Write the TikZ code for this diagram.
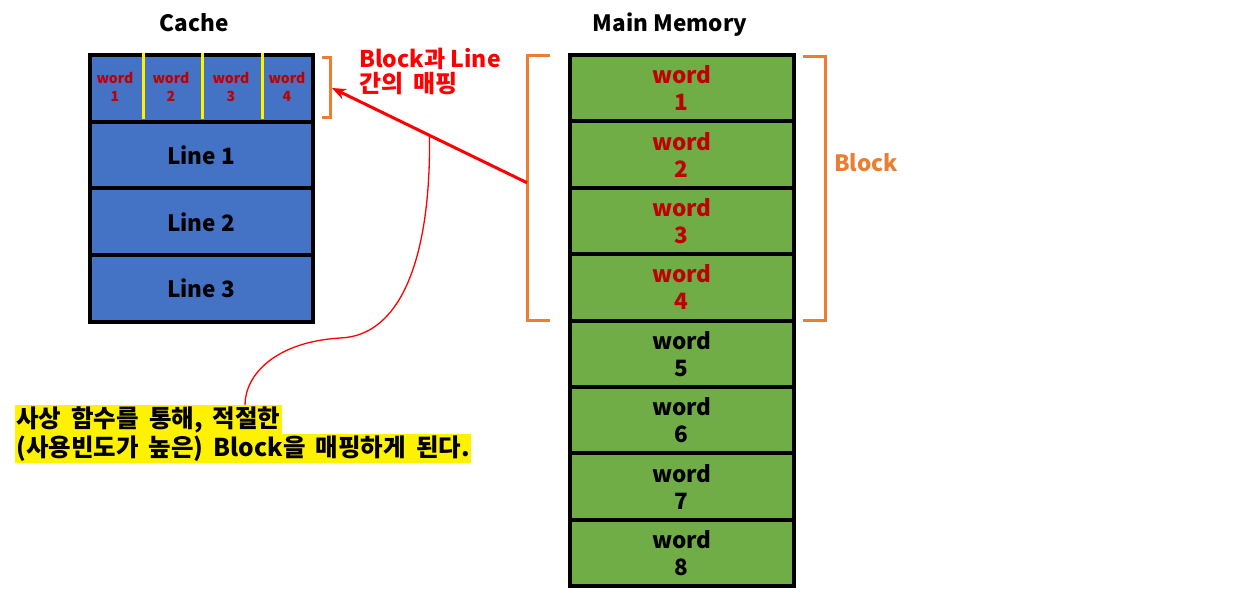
\documentclass[tikz,border=0pt]{standalone}
\usepackage{fontspec}
\setmainfont{Noto Sans CJK KR}
\newfontfamily\krwide{Noto Sans CJK KR}[WordSpace=1.8]
\usetikzlibrary{arrows.meta}
\definecolor{cacheblue}{HTML}{4472C4}
\definecolor{memgreen}{HTML}{70AD47}
\definecolor{wordred}{HTML}{C00000}
\definecolor{brorange}{HTML}{ED7D31}
\begin{document}
\begin{tikzpicture}[x=1pt,y=-1pt,
    cell/.style={draw=black, line width=4pt, outer sep=0pt, inner sep=0pt, anchor=north west, align=center},
    big/.style={font=\fontsize{22.5}{27}\selectfont\bfseries, align=center},
    small/.style={font=\fontsize{14}{18}\selectfont\bfseries, text=wordred, align=center},
    brk/.style={draw=brorange, line width=3pt},
    note/.style={fill=yellow, inner xsep=1pt, inner ysep=0pt, anchor=north west, minimum height=29pt, font=\krwide\fontsize{24.5}{26}\selectfont\bfseries}]
    \useasboundingbox (0,0) rectangle (1239,596);
    % Cache
    \node[big] (cachetitle) at (194,23) {Cache};
    \node[cell, fill=cacheblue, minimum width=223pt, minimum height=66.75pt] (c0) at (89.5,55) {};
    \foreach \x in {143,202,262} \draw[yellow, line width=3pt] (\x,53) -- (\x,119);
    \foreach \i/\x in {1/115,2/171,3/231,4/287} \node[small] (cw\i) at (\x,87) {word\\\i};
    \foreach \i in {1,2,3}
        \node[cell, big, fill=cacheblue, minimum width=223pt, minimum height=66.75pt] (c\i) at (89.5,55+66.75*\i) {Line \i};
    % Main Memory
    \node[big] (memtitle) at (670,25) {Main Memory};
    \foreach \i in {1,...,8} {
        \ifnum\i<5 \def\wc{wordred}\else\def\wc{black}\fi
        \node[cell, big, fill=memgreen, text=\wc, minimum width=223.5pt, minimum height=66.4pt] (m\i) at (570,55+66.4*\i-66.4) {word\\\i};
    }
    % Brackets
    \draw[brk] (550,56) -- (527,56) -- coordinate[pos=0.48] (bl) (527,320) -- (550,320);
    \draw[brk] (803,57) -- (825,57) -- (825,320) -- (803,320);
    \node[big, text=brorange] (blocklabel) at (866,163) {Block};
    \draw[brk] (322,58) -- (330,58) -- coordinate[pos=0.5] (sb) (330,118) -- (322,118);
    % Mapping
    \node[text=red, align=left, anchor=north west, inner sep=0pt, font=\fontsize{23}{25}\selectfont\bfseries] (maplabel) at (359,48) {Block과 Line\\{\krwide\fontsize{24}{25}\selectfont 간의 매핑}};
    \draw[red, line width=3pt, -{Stealth[length=14pt, width=11pt]}] (bl) -- coordinate[pos=0.5] (mid) ([xshift=2pt]sb);
    % Callout
    \node[note] (callA) at (15,405) {사상 함수를 통해, 적절한};
    \node[note] (callB) at (15,434) {(사용빈도가 높은) Block을 매핑하게 된다.};
    \draw[red, line width=1.3pt] (mid) .. controls (431,260) and (400,336) .. (340,338)
        .. controls (275,342) and (245,375) .. ([xshift=230pt]callA.north west);
\end{tikzpicture}
\end{document}
